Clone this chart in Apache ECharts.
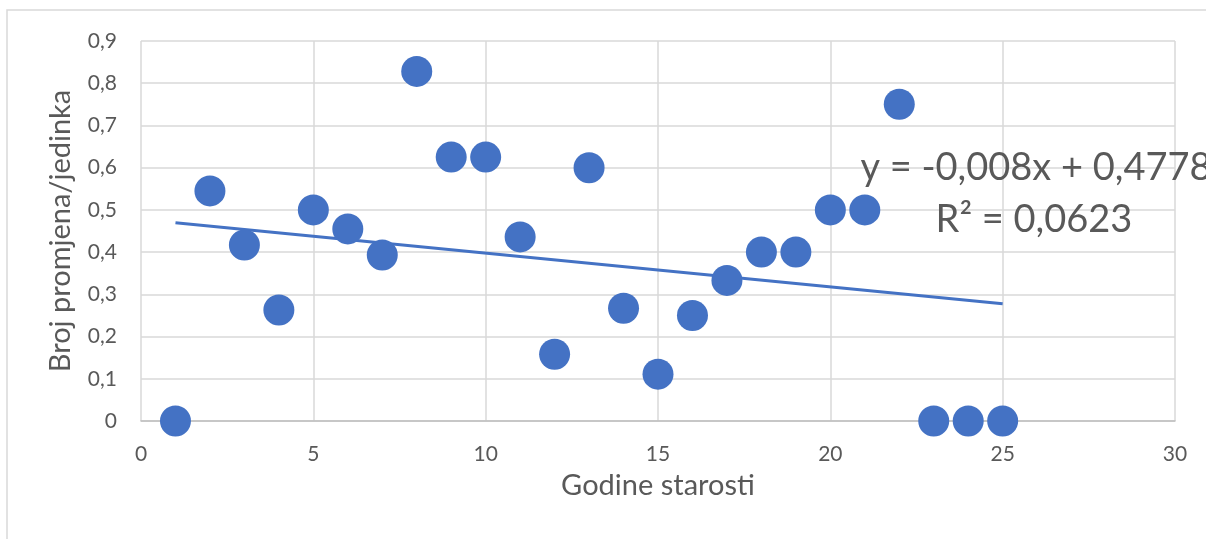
<!DOCTYPE html>
<html>
<head>
<meta charset="utf-8">
<script src="https://cdn.jsdelivr.net/npm/echarts@6/dist/echarts.min.js"></script>
<style>
html,body{margin:0;padding:0;background:#fff;}
#c{width:1206px;height:539px;}
</style>
</head>
<body>
<div id="c"></div>
<script>
const ages = [1,2,3,4,5,6,7,8,9,10,11,12,13,14,15,16,17,18,19,20,21,22,23,24,25];
const changes = [0,0.545,0.417,0.263,0.5,0.455,0.393,0.828,0.625,0.625,0.436,0.158,0.6,0.267,0.111,0.25,0.333,0.4,0.4,0.5,0.5,0.75,0,0,0];
const xTicks = [0,5,10,15,20,25,30];
const yTicks = [0,0.1,0.2,0.3,0.4,0.5,0.6,0.7,0.8,0.9];
const trendSlope = -0.008;
const trendIntercept = 0.4778;
const trendR2 = '0,0623';
const xTitle = 'Godine starosti';
const yTitle = 'Broj promjena/jedinka';

const fmt = v => String(v).replace('.', ',');
const points = ages.map((a,i)=>[a, changes[i]]);
const xMinData = Math.min(...ages), xMaxData = Math.max(...ages);
const trendPts = [[xMinData, trendIntercept + trendSlope*xMinData],[xMaxData, trendIntercept + trendSlope*xMaxData]];
const eqText = 'y = ' + fmt(trendSlope) + 'x + ' + fmt(trendIntercept);
const r2Text = 'R² = ' + trendR2;

const font = 'Lato, "Open Sans", sans-serif';
const chart = echarts.init(document.getElementById('c'), null, {renderer:'canvas'});
chart.setOption({
  backgroundColor:'#fff',
  animation:false,
  grid:{left:141, top:41, right:31, bottom:118, containLabel:false},
  xAxis:{
    type:'value', min:xTicks[0], max:xTicks[xTicks.length-1], interval:xTicks[1]-xTicks[0],
    name:xTitle, nameLocation:'middle', nameGap:50,
    nameTextStyle:{fontFamily:font, fontSize:29, color:'#595959'},
    axisLine:{show:true, lineStyle:{color:'#bfbfbf', width:1.5}},
    axisTick:{show:false},
    axisLabel:{fontFamily:font, fontSize:21, color:'#595959', margin:23, formatter:v=>fmt(v)},
    splitLine:{show:true, lineStyle:{color:'#d9d9d9', width:1.5}}
  },
  yAxis:{
    type:'value', min:yTicks[0], max:yTicks[yTicks.length-1], interval:0.1,
    name:yTitle, nameLocation:'middle', nameGap:66,
    nameTextStyle:{fontFamily:font, fontSize:29, color:'#595959'},
    axisLine:{show:false},
    axisTick:{show:false},
    axisLabel:{fontFamily:font, fontSize:21, color:'#595959', margin:24, formatter:v=>fmt(Math.round(v*10)/10)},
    splitLine:{show:true, lineStyle:{color:'#d9d9d9', width:1.5}}
  },
  series:[
    {
      type:'line', data:trendPts, symbol:'none', silent:true,
      lineStyle:{color:'#4472c4', width:3}, z:1
    },
    {
      type:'scatter', data:points, symbol:'circle', symbolSize:31,
      itemStyle:{color:'#4472c4', opacity:1}, z:2
    }
  ],
  graphic:[
    {type:'rect', shape:{x:7, y:10, width:1400, height:700}, style:{fill:'none', stroke:'#d9d9d9', lineWidth:1.5}, silent:true, z:-1},
    {type:'text', x:1036, y:168, style:{text:eqText, fontFamily:font, fontSize:38, fill:'#595959', align:'center', verticalAlign:'middle'}, z:10},
    {type:'text', x:1034, y:220, style:{text:r2Text, fontFamily:font, fontSize:38, fill:'#595959', align:'center', verticalAlign:'middle'}, z:10}
  ]
});
</script>
</body>
</html>
